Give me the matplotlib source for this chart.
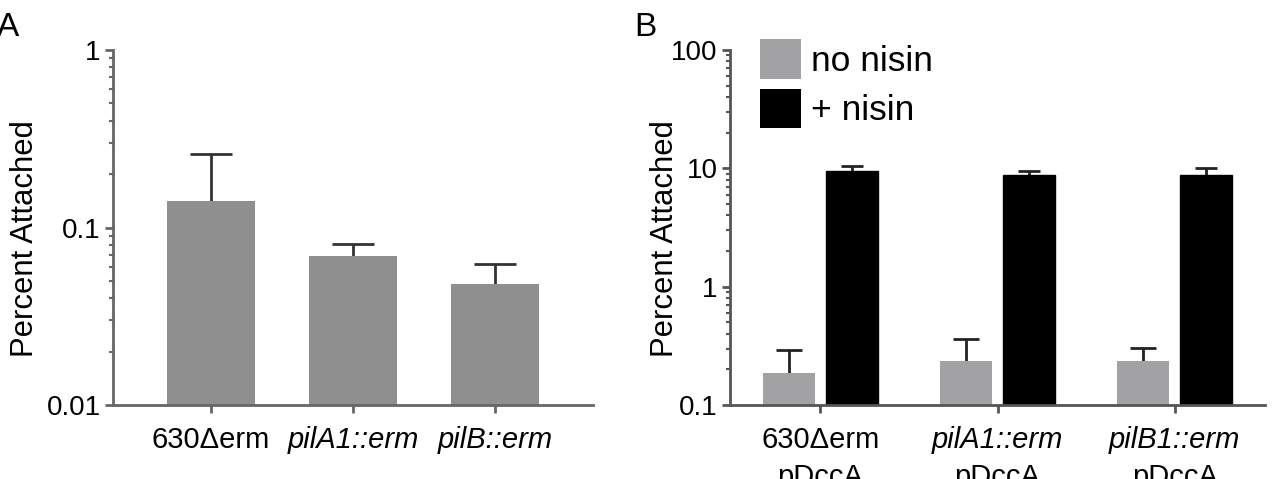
import matplotlib
matplotlib.use("Agg")
import matplotlib.pyplot as plt
import numpy as np
from matplotlib.patches import Patch
from matplotlib.ticker import LogLocator, NullFormatter, FixedLocator
import matplotlib.transforms as mtransforms

plt.rcParams['font.family'] = ['Liberation Sans', 'DejaVu Sans']

# ---------------- data ----------------
a_categories = ["630\u0394erm", "pilA1::erm", "pilB::erm"]
a_italic = [False, True, True]
a_values = [0.141, 0.069, 0.048]
a_err = [0.118, 0.012, 0.014]
a_yticks = [0.01, 0.1, 1]
a_yticklabels = ["0.01", "0.1", "1"]

b_groups = ["630\u0394erm", "pilA1::erm", "pilB1::erm"]
b_italic = [False, True, True]
b_second = ["pDccA", "pDccA", "pDccA"]
b_no_nisin = [0.186, 0.237, 0.237]
b_no_nisin_err = [0.106, 0.124, 0.066]
b_nisin = [9.5, 8.8, 8.8]
b_nisin_err = [1.0, 0.75, 1.3]
b_yticks = [0.1, 1, 10, 100]
b_yticklabels = ["0.1", "1", "10", "100"]
legend_labels = ["no nisin", "+ nisin"]

# ---------------- figure ----------------
W, H = 1285, 479
fig = plt.figure(figsize=(W / 100, H / 100), dpi=100)

def px_axes(x0, x1, ytop, ybot):
    return fig.add_axes([x0 / W, 1 - ybot / H, (x1 - x0) / W, (ybot - ytop) / H])

XTICK_FS = 21
YTICK_FS = 20
YLAB_FS = 22.3

def style_axes(ax, spine_color):
    for s in ("top", "right"):
        ax.spines[s].set_visible(False)
    for s in ("left", "bottom"):
        ax.spines[s].set_color(spine_color)
        ax.spines[s].set_linewidth(2)
    ax.tick_params(axis="y", which="major", direction="out", length=6, width=2,
                   color=spine_color, labelsize=YTICK_FS, pad=3)
    ax.tick_params(axis="y", which="minor", direction="out", length=3, width=1.5,
                   color=spine_color)
    ax.tick_params(axis="x", which="major", direction="out", length=6, width=2,
                   color=spine_color, labelsize=XTICK_FS, pad=9)
    ax.tick_params(axis="x", which="minor", length=0)

def upper_errorbar(ax, x, y, err, color, capsize):
    cont = ax.errorbar(x, y, yerr=[np.zeros(len(err)), err], fmt="none",
                       ecolor=color, elinewidth=2, capsize=capsize, capthick=2,
                       zorder=1)
    # hide the lower caps (they sit on the bar tops)
    for cl in cont[1]:
        yd = np.asarray(cl.get_ydata(), dtype=float)
        if np.allclose(yd, np.asarray(y, dtype=float)):
            cl.set_visible(False)
    return cont

# ---------------- panel A ----------------
axA = px_axes(113, 593, 50, 405)
xA = np.arange(len(a_categories))
axA.bar(xA, a_values, width=0.62, color="#8f8f8f", zorder=2)
upper_errorbar(axA, xA, a_values, a_err, "#333333", 15)
axA.set_yscale("log")
axA.set_ylim(0.01, 1)
axA.set_xlim(-0.69, 2.69)
axA.yaxis.set_major_locator(FixedLocator(a_yticks))
axA.set_yticklabels(a_yticklabels)
axA.yaxis.set_minor_locator(LogLocator(base=10, subs=np.arange(2, 10)))
axA.yaxis.set_minor_formatter(NullFormatter())
axA.set_xticks(xA)
axA.set_xticklabels(a_categories)
for lab, it in zip(axA.get_xticklabels(), a_italic):
    lab.set_fontstyle("italic" if it else "normal")
axA.set_ylabel("Percent Attached", fontsize=YLAB_FS)
axA.yaxis.set_label_coords((40 - 113) / 480, 0.47)
style_axes(axA, "#666666")

# ---------------- panel B ----------------
axB = px_axes(730, 1265, 50, 405)
xB = np.arange(len(b_groups))
off = 0.178
bw = 0.29
axB.bar(xB - off, b_no_nisin, width=bw, color="#a2a2a5", zorder=2)
axB.bar(xB + off, b_nisin, width=bw, color="#000000", edgecolor="#000000", zorder=2)
upper_errorbar(axB, xB - off, b_no_nisin, b_no_nisin_err, "#222222", 9.5)
upper_errorbar(axB, xB + off, b_nisin, b_nisin_err, "#222222", 8)
axB.set_yscale("log")
axB.set_ylim(0.1, 100)
axB.set_xlim(-0.51, 2.51)
axB.yaxis.set_major_locator(FixedLocator(b_yticks))
axB.set_yticklabels(b_yticklabels)
axB.yaxis.set_minor_locator(LogLocator(base=10, subs=np.arange(2, 10)))
axB.yaxis.set_minor_formatter(NullFormatter())
axB.set_xticks(xB)
axB.set_xticklabels(b_groups)
for lab, it in zip(axB.get_xticklabels(), b_italic):
    lab.set_fontstyle("italic" if it else "normal")
trans = mtransforms.blended_transform_factory(axB.transData, axB.transAxes)
for x, s in zip(xB, b_second):
    axB.annotate(s, xy=(x, 0), xycoords=trans, xytext=(0, -42),
                 textcoords="offset points", ha="center", va="top",
                 fontsize=XTICK_FS, annotation_clip=False)
axB.set_ylabel("Percent Attached", fontsize=YLAB_FS)
axB.yaxis.set_label_coords((680 - 730) / 535, 0.47)
style_axes(axB, "#555555")

handles = [Patch(facecolor="#a2a2a5", edgecolor="none"),
           Patch(facecolor="#000000", edgecolor="none")]
fig.legend(handles, legend_labels, loc="upper left",
           bbox_to_anchor=(760 / W, 1 - 39 / H), frameon=False, fontsize=25.5,
           handlelength=1.17, handleheight=1.35, handletextpad=0.28,
           labelspacing=0.28, borderpad=0, borderaxespad=0)

# panel letters
fig.text(-3 / W, 1 - 12 / H, "A", fontsize=24, va="top", ha="left")
fig.text(634 / W, 1 - 12 / H, "B", fontsize=24, va="top", ha="left")

fig.savefig("out.png", dpi=100)
